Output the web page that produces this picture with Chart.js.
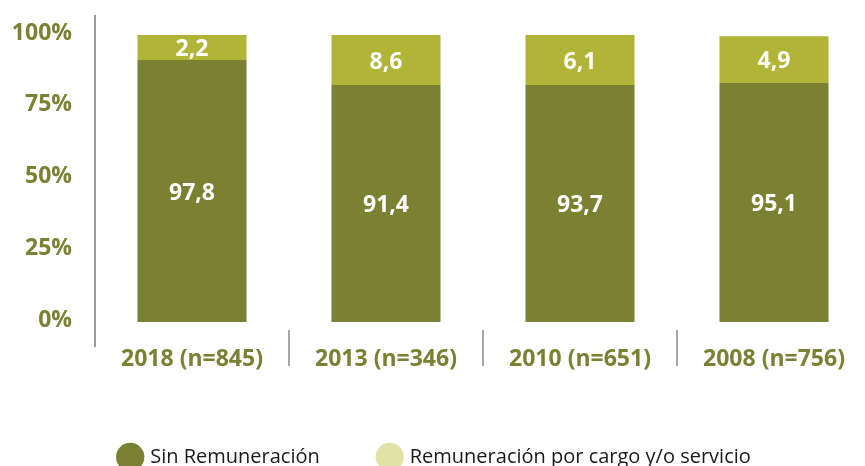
<!DOCTYPE html>
<html>
<head>
<meta charset="utf-8">
<script src="https://cdn.jsdelivr.net/npm/chart.js@4"></script>
<style>
  html, body { margin: 0; padding: 0; background: #fff; overflow: hidden; }
  #caja { width: 865px; height: 466px; overflow: hidden; }
  #grafico { display: block; }
</style>
</head>
<body>
<div id="caja"><canvas id="grafico" width="880" height="477"></canvas></div>
<script>
// Datos
const categorias = ['2018 (n=845)', '2013 (n=346)', '2010 (n=651)', '2008 (n=756)'];
// altura de cada tramo tal como se dibuja
const sinRemuneracion = [91.3, 82.6, 82.6, 83.3];
const conRemuneracion = [8.7, 17.4, 17.4, 16.3];
// valores impresos sobre las barras
const etiquetasSin = ['97,8', '91,4', '93,7', '95,1'];
const etiquetasCon = ['2,2', '8,6', '6,1', '4,9'];
const nombresSeries = ['Sin Remuneración', 'Remuneración por cargo y/o servicio'];

const verdeOscuro = '#7a8133';
const verdeClaro = '#b0b537';
const verdeLeyenda = ['#7a8133', '#dfe3a7'];
const fuente = "'Open Sans', 'DejaVu Sans', sans-serif";

// Etiquetas blancas dentro de cada tramo
const pluginEtiquetas = {
  id: 'etiquetas',
  afterDatasetsDraw(chart) {
    const ctx = chart.ctx;
    const textos = [etiquetasSin, etiquetasCon];
    ctx.save();
    ctx.fillStyle = '#ffffff';
    ctx.font = 'bold 23px ' + fuente;
    ctx.textAlign = 'center';
    ctx.textBaseline = 'middle';
    chart.data.datasets.forEach((ds, d) => {
      chart.getDatasetMeta(d).data.forEach((barra, i) => {
        const y = (barra.y + barra.base) / 2;
        ctx.fillText(textos[d][i], barra.x, y + 2);
      });
    });
    ctx.restore();
  }
};

// Eje vertical y separadores entre categorias
const pluginLineas = {
  id: 'lineas',
  afterDraw(chart) {
    const ctx = chart.ctx;
    const area = chart.chartArea;
    const x = chart.scales.x;
    ctx.save();
    ctx.strokeStyle = '#9b9b9b';
    ctx.lineWidth = 2;
    ctx.beginPath();
    ctx.moveTo(area.left, area.top - 20);
    ctx.lineTo(area.left, area.bottom + 25);
    ctx.stroke();
    ctx.lineWidth = 1.5;
    ctx.strokeStyle = '#8a8a8a';
    for (let i = 1; i < categorias.length; i++) {
      const xs = (x.getPixelForValue(i - 1) + x.getPixelForValue(i)) / 2;
      ctx.beginPath();
      ctx.moveTo(xs, area.bottom + 8);
      ctx.lineTo(xs, area.bottom + 44);
      ctx.stroke();
    }
    ctx.restore();
  }
};

new Chart(document.getElementById('grafico'), {
  type: 'bar',
  data: {
    labels: categorias,
    datasets: [
      { label: nombresSeries[0], data: sinRemuneracion, backgroundColor: verdeOscuro },
      { label: nombresSeries[1], data: conRemuneracion, backgroundColor: verdeClaro }
    ]
  },
  options: {
    responsive: false,
    animation: false,
    categoryPercentage: 1,
    barPercentage: 0.562,
    layout: { padding: { top: 35, right: 9, left: 0, bottom: 0 } },
    plugins: {
      tooltip: { enabled: false },
      legend: {
        position: 'bottom',
        labels: {
          usePointStyle: true,
          pointStyle: 'circle',
          padding: 60,
          color: '#1a1a1a',
          font: { family: fuente, size: 20 },
          generateLabels(chart) {
            const items = Chart.defaults.plugins.legend.labels.generateLabels(chart);
            items.forEach((it, i) => {
              it.fillStyle = verdeLeyenda[i];
              it.strokeStyle = verdeLeyenda[i];
              it.lineWidth = 0;
            });
            return items;
          }
        }
      }
    },
    scales: {
      x: {
        stacked: true,
        grid: { display: false },
        border: { display: false },
        ticks: {
          color: '#7a8133',
          padding: 16,
          font: { family: fuente, size: 23, weight: 'bold' }
        },
        afterFit(scale) { scale.height = 65; }
      },
      y: {
        stacked: true,
        min: 0,
        max: 100,
        grid: { display: false },
        border: { display: false },
        ticks: {
          stepSize: 25,
          padding: 15,
          labelOffset: -2,
          color: '#7a8133',
          font: { family: fuente, size: 23, weight: 'bold' },
          callback: (v) => v + '%'
        },
        afterFit(scale) { scale.width = 95; }
      }
    }
  },
  plugins: [pluginEtiquetas, pluginLineas]
});
</script>
</body>
</html>
